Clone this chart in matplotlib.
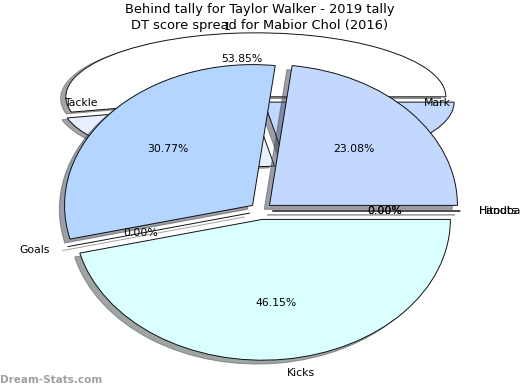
import matplotlib
matplotlib.use("Agg")
import matplotlib.pyplot as plt

# back pie (behind tally)
back_labels = ['1', '2', '3']
back_values = [7, 3, 3]
back_colors = ['#ffffff', '#e8f0ff', '#c3d8ff']

# front pie (DT score spread)
front_labels = ['Handball', 'Hitouts', 'Mark', 'Tackle', 'Goals', 'Kicks']
front_values = [0, 0, 3, 4, 0, 6]
front_colors = ['#c3d8ff', '#c3d8ff', '#c3d8ff', '#b3d5ff', '#d9ffff', '#d9ffff']

title_back = "Behind tally for Taylor Walker - 2019 tally"
title_front = "DT score spread for Mabior Chol (2016)"

plt.rcParams['font.size'] = 7.8

W, H = 520, 390
fig = plt.figure(figsize=(W / 100, H / 100), dpi=100)


def px_axes(left, top, width, height):
    # axes placed in pixel coords (top-left origin)
    return fig.add_axes([left / W, 1 - (top + height) / H, width / W, height / H])


wp = {'edgecolor': '#111111', 'linewidth': 0.7}

# back pie, strongly squashed
ax1 = px_axes(19.5, 20, 475, 160)
ax1.pie(back_values, labels=back_labels, colors=back_colors, autopct='%1.2f%%',
        explode=[0.05] * len(back_values), shadow=True, startangle=0,
        wedgeprops=wp)
ax1.set_aspect('auto')

# front pie
ax2 = px_axes(26, 35, 470, 352)
ax2.pie(front_values, labels=front_labels, colors=front_colors, autopct='%1.2f%%',
        explode=[0.06] * len(front_values), shadow=True, startangle=0,
        wedgeprops=wp)
ax2.set_aspect('auto')

fig.text(0.5, 1 - 10 / H, title_back, ha='center', va='center', fontsize=9.4)
fig.text(0.5, 1 - 25 / H, title_front, ha='center', va='center', fontsize=9.4)

fig.text(0, 1 - 380 / H, "Dream-Stats.com", ha='left', va='center',
         fontsize=7.5, fontweight='bold', color='#a0a0a0')

fig.savefig("out.png", dpi=100)
